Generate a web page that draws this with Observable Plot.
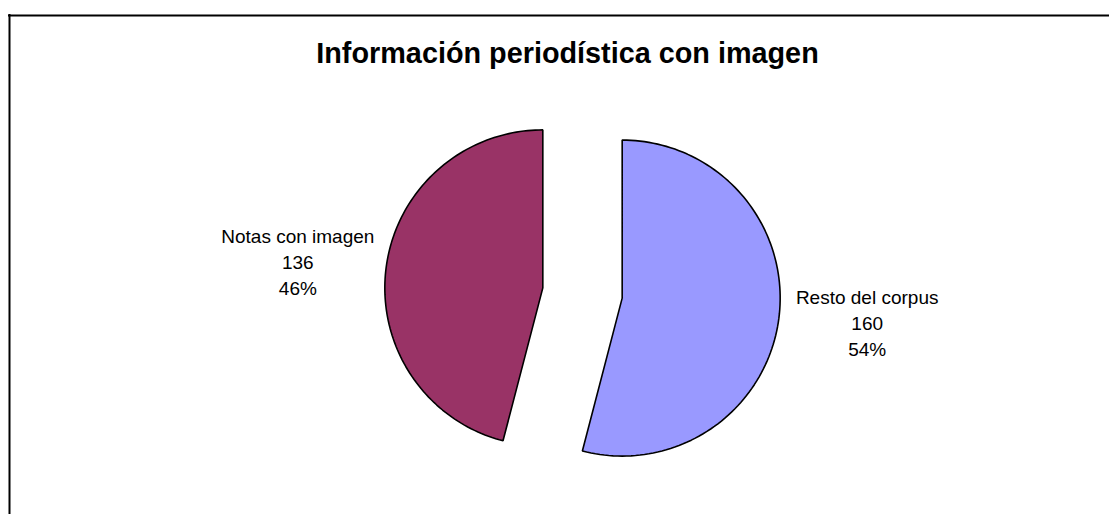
<!DOCTYPE html>
<html>
<head>
<meta charset="utf-8">
<script src="https://cdn.jsdelivr.net/npm/d3@7"></script>
<script src="https://cdn.jsdelivr.net/npm/@observablehq/plot@0.6"></script>
<style>
  html, body { margin: 0; padding: 0; background: #fff; }
</style>
</head>
<body>
<div id="chart"></div>
<script>
// ---- data ----
const title = "Información periodística con imagen";
const categories = ["Resto del corpus", "Notas con imagen"];
const values = [160, 136];
const percentLabels = ["54%", "46%"];
const colors = ["#9999FF", "#993366"];

// ---- layout ----
const W = 1109, H = 514;
const cx = 582, cy = 292.5, R = 158, explode = 40, labelR = 247;
const labelDyRight = -8, labelDyLeft = 4;

const arcs = d3.pie().sort(null).startAngle(0)(values);
const pt = (a, r, ox, oy) => ({x: ox + r * Math.sin(a), y: oy - r * Math.cos(a)});

const polyPts = [];
const labels = [];
arcs.forEach((a, i) => {
  const mid = (a.startAngle + a.endAngle) / 2;
  const ox = cx + explode * Math.sin(mid), oy = cy - explode * Math.cos(mid);
  const key = categories[i];
  polyPts.push({key, color: colors[i], ...pt(0, 0, ox, oy)});
  const n = 120;
  for (let k = 0; k <= n; k++) {
    const ang = a.startAngle + (a.endAngle - a.startAngle) * k / n;
    polyPts.push({key, color: colors[i], ...pt(ang, R, ox, oy)});
  }
  polyPts.push({key, color: colors[i], ...pt(0, 0, ox, oy)});
  const lp = pt(mid, labelR, ox, oy);
  const dy = Math.sin(mid) >= 0 ? labelDyRight : labelDyLeft;
  labels.push({x: lp.x, y: lp.y + dy, text: `${key}\n${values[i]}\n${percentLabels[i]}`});
});

const chart = Plot.plot({
  width: W, height: H,
  margin: 0,
  x: {domain: [0, W], range: [0, W], axis: null},
  y: {domain: [0, H], range: [0, H], axis: null},
  color: {type: "identity"},
  style: {fontFamily: "'Liberation Sans', Arial, sans-serif", background: "#fff", overflow: "hidden"},
  marks: [
    Plot.ruleX([9], {y1: 14, y2: H + 5, stroke: "black", strokeWidth: 2}),
    Plot.ruleY([15], {x1: 8, x2: W + 5, stroke: "black", strokeWidth: 2}),
    Plot.line(polyPts, {x: "x", y: "y", z: "key", fill: "color", stroke: "black", strokeWidth: 1.6, curve: "linear", strokeLinejoin: "miter"}),
    Plot.text(labels, {x: "x", y: "y", text: "text", fontSize: 19, lineHeight: 1.37, fill: "black"}),
    Plot.text([title], {x: () => 567, y: () => 53, text: d => d, fontSize: 28.8, fontWeight: "bold", fill: "black"})
  ]
});
document.getElementById("chart").appendChild(chart);
</script>
</body>
</html>
